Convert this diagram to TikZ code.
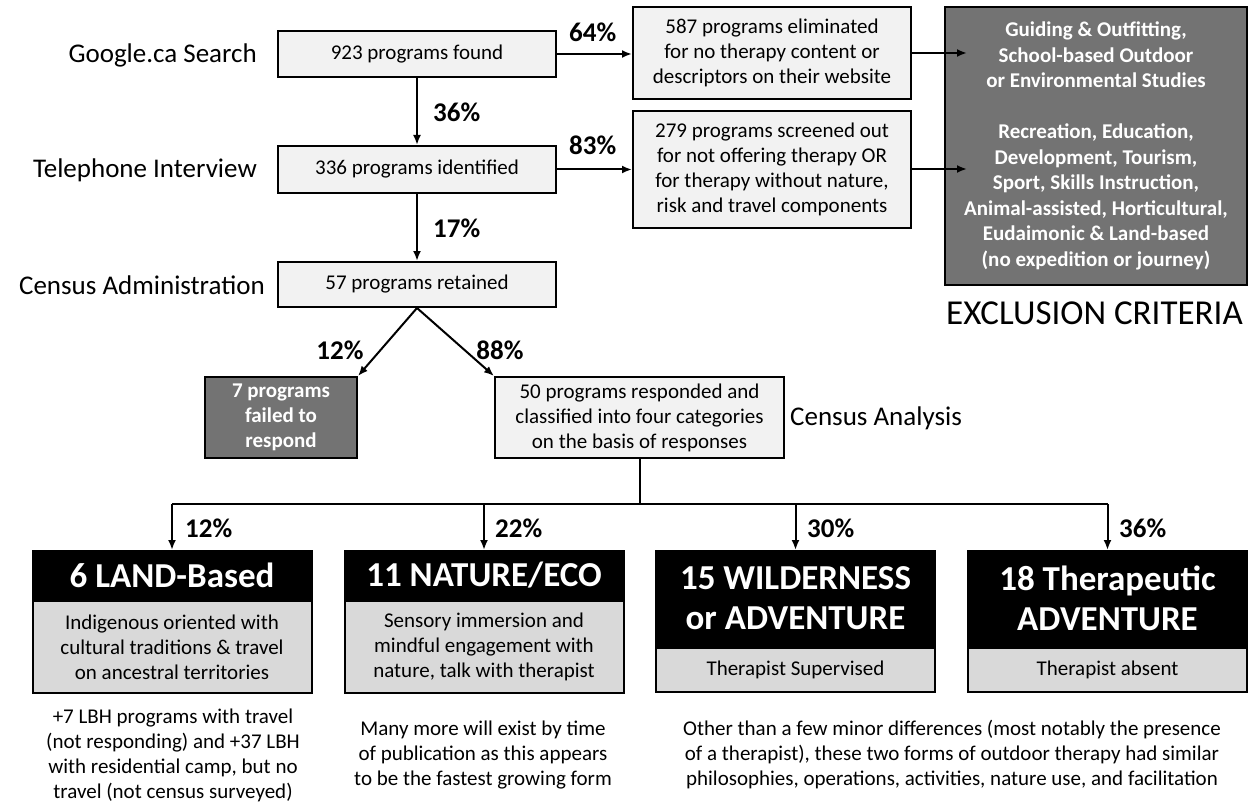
\documentclass[tikz,border=0pt]{standalone}
\usepackage{fontspec}
\setmainfont{Carlito}
\usetikzlibrary{arrows.meta}
\definecolor{boxfill}{HTML}{F2F2F2}
\definecolor{darkfill}{HTML}{737373}
\definecolor{catfill}{HTML}{D9D9D9}
\newcommand\bxfont{\fontsize{21}{25}\selectfont}
\newcommand\lbfont{\fontsize{27}{32}\selectfont}
\newcommand\hdfont{\fontsize{35}{40}\selectfont\bfseries}
\begin{document}
\begin{tikzpicture}[x=1pt,y=-1pt,
  box/.style={draw=black, line width=2pt, fill=boxfill, inner sep=0pt, align=center, font=\bxfont},
  darkbox/.style={box, fill=darkfill, text=white, font=\bxfont\bfseries},
  lab/.style={inner sep=0pt, font=\lbfont},
  pct/.style={inner sep=0pt, font=\lbfont\bfseries},
  cathead/.style={draw=black, line width=2pt, fill=black, text=white, font=\hdfont, align=center, inner sep=0pt, minimum width=279pt, anchor=north},
  catbody/.style={draw=black, line width=2pt, fill=catfill, align=center, inner sep=0pt, font=\bxfont, minimum width=279pt, anchor=north},
  note/.style={inner sep=0pt, align=center, font=\bxfont},
  arr/.style={line width=2pt, -{Latex[length=10pt,width=8pt]}},
  ln/.style={line width=2pt}]
\useasboundingbox[fill=white] (0,0) rectangle (1250,805);

% left stage labels
\node[lab, anchor=east] (lgoogle) at (257,55) {Google.ca Search};
\node[lab, anchor=east] (ltel) at (257,170) {Telephone Interview};
\node[lab, anchor=east] (lcensus) at (265,285) {Census Administration};

% main column
\node[box, minimum width=278pt, minimum height=46pt] (b923) at (417,54) {923 programs found};
\node[box, minimum width=278pt, minimum height=47pt] (b336) at (417,169.5) {336 programs identified};
\node[box, minimum width=278pt, minimum height=45pt] (b57) at (417,284.5) {57 programs retained};

% eliminated boxes
\node[box, minimum width=278pt, minimum height=92pt] (b587) at (772,53) {587 programs eliminated\\for no therapy content or\\descriptors on their website};
\node[box, minimum width=278pt, minimum height=117pt] (b279) at (772,169.5) {279 programs screened out\\for not offering therapy OR\\for therapy without nature,\\risk and travel components};

% exclusion criteria
\node[darkbox, minimum width=302pt, minimum height=278pt, font=\fontsize{21}{25.5}\selectfont\bfseries] (excl) at (1096,146) {Guiding \& Outfitting,\\School-based Outdoor\\or Environmental Studies\\[25.5pt]Recreation, Education,\\Development, Tourism,\\Sport, Skills Instruction,\\Animal-assisted, Horticultural,\\Eudaimonic \& Land-based\\(no expedition or journey)};
\node[inner sep=0pt, font=\fontsize{35}{40}\selectfont] (exlab) at (1094.5,313) {EXCLUSION CRITERIA};

\coordinate (e1) at (967,53);
\coordinate (e2) at (967,169);

% percentages top
\node[pct, anchor=west] (p64) at (569,32) {64\%};
\node[pct, anchor=west] (p83) at (569,145) {83\%};
\node[pct, anchor=west] (p36) at (433,112) {36\%};
\node[pct, anchor=west] (p17) at (433,228) {17\%};

% arrows top
\draw[arr] (b923.east) -- (b923.east -| b587.west);
\draw[arr] (b336.east) -- (b336.east -| b279.west);
\draw[arr] (b587.east |- e1) -- (e1);
\draw[arr] (b279.east |- e2) -- (e2);
\draw[arr] (b923.south) -- (b336.north);
\draw[arr] (b336.south) -- (b57.north);

% second level
\node[darkbox, minimum width=152pt, minimum height=81pt] (b7) at (281,417.5) {7 programs\\failed to\\respond};
\node[box, minimum width=289pt, minimum height=81pt] (b50) at (639.5,417.5) {50 programs responded and\\classified into four categories\\on the basis of responses};
\node[lab, anchor=west] (lanalysis) at (790,418) {Census Analysis};

\draw[arr] (b57.south) -- (b7.north east);
\draw[arr] (b57.south) -- (b50.north west);
\node[pct] (p12a) at (340,350) {12\%};
\node[pct] (p88) at (500,350) {88\%};

% categories
\node[cathead, minimum height=48pt] (landh) at (172,550) {6 LAND-Based};
\node[catbody, minimum height=92pt] (landb) at (landh.south) {Indigenous oriented with\\cultural traditions \& travel\\on ancestral territories};
\node[cathead, minimum height=48pt] (nath) at (484,550) {11 NATURE/ECO};
\node[catbody, minimum height=92pt] (natb) at (nath.south) {Sensory immersion and\\mindful engagement with\\nature, talk with therapist};
\node[cathead, minimum height=95pt] (wildh) at (795.5,550) {15 WILDERNESS\\or ADVENTURE};
\node[catbody, minimum height=44pt] (wildb) at (wildh.south) {Therapist Supervised};
\node[cathead, minimum height=95pt] (therh) at (1107.5,550) {18 Therapeutic\\ADVENTURE};
\node[catbody, minimum height=44pt] (therb) at (therh.south) {Therapist absent};

% split connector
\coordinate (jn) at (639.5,504);
\draw[ln] (b50.south) -- (jn);
\draw[ln] (landh.north |- jn) -- (therh.north |- jn);
\draw[arr] (landh.north |- jn) -- (landh.north);
\draw[arr] (nath.north |- jn) -- (nath.north);
\draw[arr] (wildh.north |- jn) -- (wildh.north);
\draw[arr] (therh.north |- jn) -- (therh.north);
\node[pct, anchor=west] (p12b) at (185,528) {12\%};
\node[pct, anchor=west] (p22) at (495,528) {22\%};
\node[pct, anchor=west] (p30) at (807,528) {30\%};
\node[pct, anchor=west] (p36b) at (1119,528) {36\%};

% notes
\node[note] (n1) at (173,755) {+7 LBH programs with travel\\(not responding) and +37 LBH\\with residential camp, but no\\travel (not census surveyed)};
\node[note] (n2) at (483,755) {Many more will exist by time\\of publication as this appears\\to be the fastest growing form};
\node[note] (n3) at (952,755) {Other than a few minor differences (most notably the presence\\of a therapist), these two forms of outdoor therapy had similar\\philosophies, operations, activities, nature use, and facilitation};
\end{tikzpicture}
\end{document}
